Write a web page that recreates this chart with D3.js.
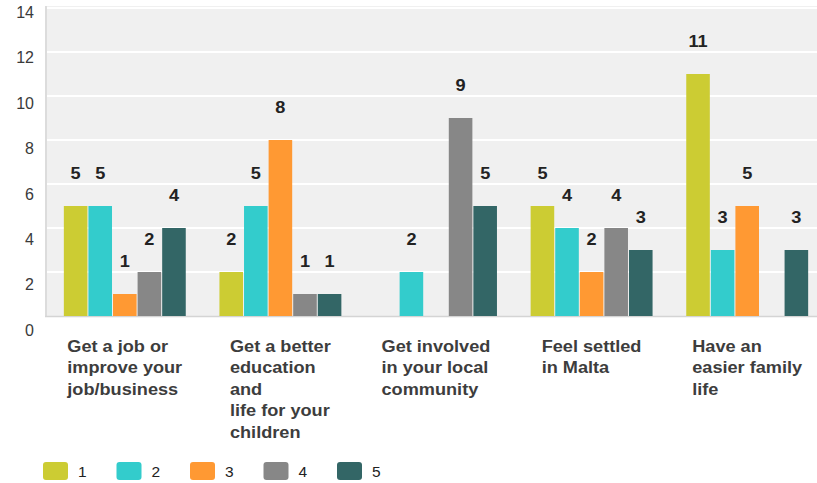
<!DOCTYPE html>
<html>
<head>
<meta charset="utf-8">
<script src="https://cdn.jsdelivr.net/npm/d3@7"></script>
<style>
  html, body { margin: 0; padding: 0; background: #ffffff; }
  svg { display: block; font-family: "Liberation Sans", Arial, sans-serif; }
</style>
</head>
<body>
<svg id="chart" width="817" height="483"></svg>
<script>
// Reasons for settling: counts of answers per rating (1–5)
const categories = [
  ["Get a job or", "improve your", "job/business"],
  ["Get a better", "education", "and", "life for your", "children"],
  ["Get involved", "in your local", "community"],
  ["Feel settled", "in Malta"],
  ["Have an", "easier family", "life"]
];
const seriesNames = ["1", "2", "3", "4", "5"];
const s1 = [5, 2, 0, 5, 11];
const s2 = [5, 5, 2, 4, 3];
const s3 = [1, 8, 0, 2, 5];
const s4 = [2, 1, 9, 4, 0];
const s5 = [4, 1, 5, 3, 3];
const yTicks = [0, 2, 4, 6, 8, 10, 12, 14];
const colors = ["#cccc33", "#33cccc", "#ff9933", "#878787", "#336666"];

const series = [s1, s2, s3, s4, s5];
const svg = d3.select("#chart");

const plot = { left: 47, right: 825, top: 6, bottom: 316 };
const STRETCH = 1.1;

const x0 = d3.scaleBand()
  .domain(d3.range(categories.length))
  .range([plot.left, plot.right])
  .paddingInner(0.21)
  .paddingOuter(0.105);
const x1 = d3.scaleBand()
  .domain(d3.range(seriesNames.length))
  .range([0, x0.bandwidth()]);
const y = d3.scaleLinear().domain([0, 14]).range([plot.bottom, 8]);
// tick labels sit on a slightly taller spread than the grid
const yLab = d3.scaleLinear().domain([0, 14]).range([330, 12.5]);

// plot background
svg.append("rect")
  .attr("x", plot.left).attr("y", plot.top)
  .attr("width", plot.right - plot.left).attr("height", plot.bottom - plot.top)
  .attr("fill", "#f0f0f0");

// horizontal grid
svg.append("g")
  .selectAll("line")
  .data(yTicks.filter(t => t > 0))
  .join("line")
  .attr("x1", plot.left).attr("x2", plot.right)
  .attr("y1", d => y(d)).attr("y2", d => y(d))
  .attr("stroke", "#ffffff").attr("stroke-width", 2);

// axis lines
svg.append("line")
  .attr("x1", plot.left - 1).attr("x2", plot.left - 1)
  .attr("y1", plot.top).attr("y2", plot.bottom + 1)
  .attr("stroke", "#dcdcdc").attr("stroke-width", 2);
svg.append("line")
  .attr("x1", plot.left - 2).attr("x2", plot.right)
  .attr("y1", plot.bottom + 0.5).attr("y2", plot.bottom + 0.5)
  .attr("stroke", "#d4d4d4").attr("stroke-width", 1.5);

// y tick labels
const yAxis = svg.append("g")
  .attr("transform", "translate(34,0)")
  .call(d3.axisLeft(yLab).tickValues(yTicks).tickSize(0).tickPadding(0));
yAxis.select(".domain").remove();
yAxis.selectAll("text")
  .attr("font-size", 16)
  .attr("font-family", "Liberation Sans, Arial, sans-serif")
  .attr("fill", "#3a3a3a");

// bars
const rows = categories.map((c, i) => series.map((s, j) => ({ cat: i, ser: j, v: s[i] })));
const groups = svg.append("g").selectAll("g")
  .data(rows)
  .join("g")
  .attr("transform", (d, i) => `translate(${x0(i)},0)`);

groups.selectAll("rect")
  .data(d => d.filter(e => e.v > 0))
  .join("rect")
  .attr("x", d => x1(d.ser) + 0.5)
  .attr("width", x1.bandwidth() - 1)
  .attr("y", d => y(d.v))
  .attr("height", d => y(0) - y(d.v))
  .attr("fill", d => colors[d.ser]);

// value labels
groups.selectAll("text")
  .data(d => d.filter(e => e.v > 0))
  .join("text")
  .attr("transform", d => `translate(${x1(d.ser) + x1.bandwidth() / 2},${y(d.v) - 27}) scale(${STRETCH},1)`)
  .attr("text-anchor", "middle")
  .attr("font-size", 16.5)
  .attr("font-weight", "bold")
  .attr("fill", "#222222")
  .text(d => d.v);

// category labels: left-aligned lines in a block centred on the group
const catG = svg.append("g");
categories.forEach((lines, i) => {
  const t = catG.append("text")
    .attr("font-size", 16.5)
    .attr("font-weight", "bold")
    .attr("fill", "#3d3d3d");
  lines.forEach((ln, k) => {
    t.append("tspan").attr("x", 0).attr("y", k * 21.5).text(ln);
  });
  let maxW = 0;
  t.selectAll("tspan").each(function () { maxW = Math.max(maxW, this.getComputedTextLength()); });
  const cx = x0(i) + x0.bandwidth() / 2;
  t.attr("transform", `translate(${cx - maxW * STRETCH / 2},352) scale(${STRETCH},1)`);
});

// legend
const legend = svg.append("g").attr("transform", "translate(43,462)");
const li = legend.selectAll("g")
  .data(seriesNames)
  .join("g")
  .attr("transform", (d, i) => `translate(${i * 73.5},0)`);
li.append("rect")
  .attr("width", 25).attr("height", 18).attr("rx", 3)
  .attr("fill", (d, i) => colors[i]);
li.append("text")
  .attr("x", 35).attr("y", 15)
  .attr("font-size", 15.5)
  .attr("fill", "#222222")
  .text(d => d);
</script>
</body>
</html>
